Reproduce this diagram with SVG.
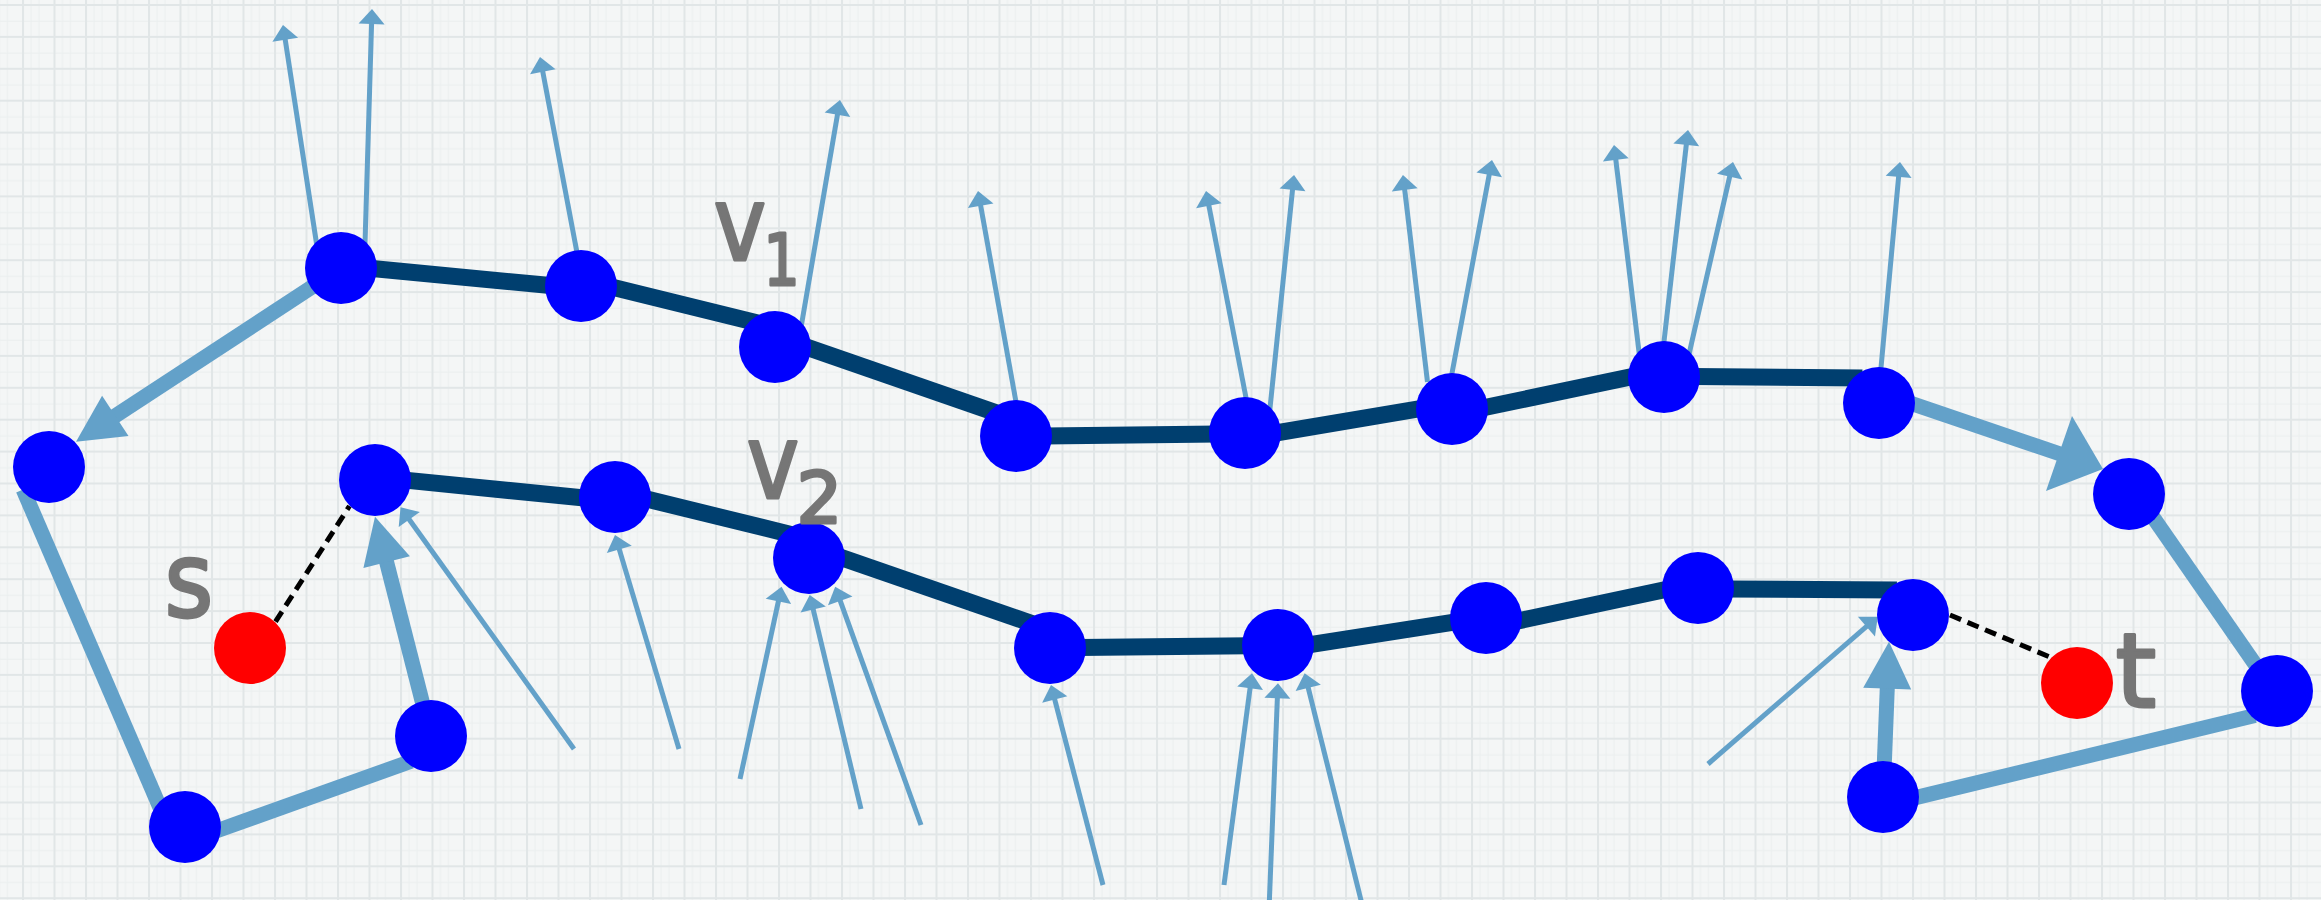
<svg xmlns="http://www.w3.org/2000/svg" width="2321" height="900" viewBox="0 0 2321 900">
<defs>
<pattern id="grid" patternUnits="userSpaceOnUse" x="22" y="4" width="31.5" height="31.9">
<rect width="31.5" height="31.9" fill="#f4f6f6"/>
<path d="M9,0V31.9 M17,0V31.9 M0,17.2H31.5" stroke="#ebefef" stroke-width="1"/>
<path d="M1,0V31.9 M0,1H31.5" stroke="#e1e6e7" stroke-width="2"/>
</pattern>
<marker id="ah" markerUnits="userSpaceOnUse" markerWidth="17" markerHeight="28" viewBox="-2 -14 17 28" refX="0" refY="0" orient="auto">
<path d="M-1,-13 L14,0 L-1,13 Z" fill="#63a1c9"/>
</marker>
<style>
.dark{stroke:#003f6f;stroke-width:17;fill:none}
.lb{stroke:#63a1c9;stroke-width:15;fill:none}
.thin{stroke:#63a1c9;stroke-width:5;fill:none;marker-end:url(#ah)}
.dash{stroke:#000;stroke-width:5;stroke-dasharray:12 7;fill:none}
.head{fill:#63a1c9}
.node{fill:#0000ff}
.term{fill:#ff0000}
.lbl{font-family:"DejaVu Sans",sans-serif;fill:#767676;stroke:#767676;stroke-width:3;stroke-linejoin:round;text-anchor:middle}
</style>
</defs>
<rect width="2321" height="900" fill="url(#grid)"/>
<g id="connectors">
<line class="dark" x1="369.6" y1="268.2" x2="553" y2="285.8"/>
<line class="dark" x1="609.5" y1="286.4" x2="757.8" y2="322.9"/>
<line class="dark" x1="804.4" y1="346.4" x2="998.4" y2="413.6"/>
<line class="dark" x1="1044" y1="435.9" x2="1218" y2="433.9"/>
<line class="dark" x1="1271.1" y1="433.8" x2="1424.7" y2="407.9"/>
<line class="dark" x1="1481.1" y1="408.3" x2="1635.6" y2="375.9"/>
<line class="dark" x1="1692" y1="376.6" x2="1862.4" y2="378.1"/>
<line class="dark" x1="402.7" y1="479.9" x2="587" y2="498.3"/>
<line class="dark" x1="642.7" y1="498.1" x2="791" y2="534.4"/>
<line class="dark" x1="837.8" y1="556.4" x2="1034.1" y2="624.3"/>
<line class="dark" x1="1078.7" y1="647.6" x2="1249.8" y2="645.7"/>
<line class="dark" x1="1306.9" y1="645.2" x2="1458.9" y2="621.3"/>
<line class="dark" x1="1514.4" y1="621.7" x2="1671.7" y2="588.3"/>
<line class="dark" x1="1725.3" y1="589" x2="1896.9" y2="590.1"/>
<line class="lb" x1="23.1" y1="489.5" x2="160.4" y2="808.5"/>
<line class="lb" x1="213.4" y1="832" x2="411.2" y2="761.3"/>
<line class="lb" x1="2150.5" y1="513.4" x2="2257.9" y2="668.3"/>
<line class="lb" x1="2254.9" y1="715.5" x2="1914.5" y2="797.9"/>
<line class="lb" x1="341" y1="268" x2="112" y2="418"/>
<polygon class="head" points="76,441.7 128.5,436 102.1,395.8"/>
<line class="lb" x1="431" y1="736" x2="385.4" y2="557.4"/>
<polygon class="head" points="375,516.7 409.9,556.3 363.4,568.1"/>
<line class="lb" x1="1883" y1="797" x2="1887.4" y2="685"/>
<polygon class="head" points="1889,641.7 1911.2,689.6 1863.2,687.8"/>
<line class="lb" x1="1887.6" y1="395.4" x2="2061.8" y2="454.5"/>
<polygon class="head" points="2103,469 2072,416 2046,491"/>
<line class="thin" x1="316.6" y1="244" x2="285.1" y2="38.8"/>
<line class="thin" x1="364.9" y1="247" x2="371.6" y2="23"/>
<line class="thin" x1="579.7" y1="266.9" x2="542.6" y2="70.8"/>
<line class="thin" x1="801.3" y1="325.9" x2="837.6" y2="113.8"/>
<line class="thin" x1="1016.7" y1="405.9" x2="980.5" y2="204.8"/>
<line class="thin" x1="1246.8" y1="401.9" x2="1208.7" y2="204.7"/>
<line class="thin" x1="1269.6" y1="412" x2="1292.6" y2="188.9"/>
<line class="thin" x1="1427.5" y1="382" x2="1404.6" y2="188.9"/>
<line class="thin" x1="1451.3" y1="376.9" x2="1489.4" y2="173.8"/>
<line class="thin" x1="1639.5" y1="356" x2="1615.7" y2="158.9"/>
<line class="thin" x1="1663.5" y1="346" x2="1686.4" y2="143.9"/>
<line class="thin" x1="1689.1" y1="353.9" x2="1729.9" y2="175.6"/>
<line class="thin" x1="1880.6" y1="372" x2="1898.7" y2="175.9"/>
<line class="thin" x1="574" y1="749" x2="408.7" y2="518.7"/>
<line class="thin" x1="679" y1="749" x2="619" y2="548.4"/>
<line class="thin" x1="740" y1="779" x2="778.6" y2="600.4"/>
<line class="thin" x1="861" y1="809" x2="813" y2="608.6"/>
<line class="thin" x1="921" y1="825" x2="839.9" y2="599.9"/>
<line class="thin" x1="1103" y1="885" x2="1054.5" y2="698.6"/>
<line class="thin" x1="1224" y1="885" x2="1250.2" y2="687.2"/>
<line class="thin" x1="1269.2" y1="905" x2="1277.4" y2="697.3"/>
<line class="thin" x1="1362.2" y1="905" x2="1308" y2="686.9"/>
<line class="thin" x1="1708" y1="764" x2="1867.2" y2="625.9"/>
<line class="dash" x1="275.5" y1="621.7" x2="349.5" y2="506"/>
<line class="dash" x1="1950" y1="615" x2="2052.8" y2="658.3"/>
</g>
<g id="n-a1"><circle class="node" cx="341" cy="268" r="36"/></g>
<g id="n-a2"><circle class="node" cx="581" cy="286" r="36"/></g>
<g id="n-v1"><circle class="node" cx="775" cy="347" r="36"/>
<text class="lbl" font-size="104" transform="translate(740,260) scale(0.85,1)">v</text>
<text class="lbl" font-size="71" transform="translate(781.5,285) scale(0.8,1)">1</text></g>
<g id="n-a4"><circle class="node" cx="1016" cy="436" r="36"/></g>
<g id="n-a5"><circle class="node" cx="1245" cy="433" r="36"/></g>
<g id="n-a6"><circle class="node" cx="1452" cy="409" r="36"/></g>
<g id="n-a7"><circle class="node" cx="1664" cy="377" r="36"/></g>
<g id="n-a8"><circle class="node" cx="1879" cy="403" r="36"/></g>
<g id="n-a9"><circle class="node" cx="2129" cy="494" r="36"/></g>
<g id="n-a10"><circle class="node" cx="2277" cy="691" r="36"/></g>
<g id="n-b0"><circle class="node" cx="49" cy="467" r="36"/></g>
<g id="n-b1"><circle class="node" cx="375" cy="480" r="36"/></g>
<g id="n-b2"><circle class="node" cx="615" cy="497" r="36"/></g>
<g id="n-v2"><circle class="node" cx="809" cy="558" r="36"/>
<text class="lbl" font-size="104" transform="translate(773,498) scale(0.85,1)">v</text>
<text class="lbl" font-size="72" transform="translate(819.5,523)">2</text></g>
<g id="n-b4"><circle class="node" cx="1050" cy="648" r="36"/></g>
<g id="n-b5"><circle class="node" cx="1278" cy="645" r="36"/></g>
<g id="n-b6"><circle class="node" cx="1486" cy="618" r="36"/></g>
<g id="n-b7"><circle class="node" cx="1698" cy="588" r="36"/></g>
<g id="n-b8"><circle class="node" cx="1913" cy="615" r="36"/></g>
<g id="n-b9"><circle class="node" cx="1883" cy="797" r="36"/></g>
<g id="n-c1"><circle class="node" cx="185" cy="827" r="36"/></g>
<g id="n-c2"><circle class="node" cx="431" cy="736" r="36"/></g>
<g id="n-s"><circle class="term" cx="250" cy="648" r="36"/>
<text class="lbl" font-size="104" transform="translate(189,617) scale(0.9,1)">s</text></g>
<g id="n-t"><circle class="term" cx="2077" cy="683" r="36"/>
<text class="lbl" font-size="104" transform="translate(2136,707)">t</text></g>
</svg>
